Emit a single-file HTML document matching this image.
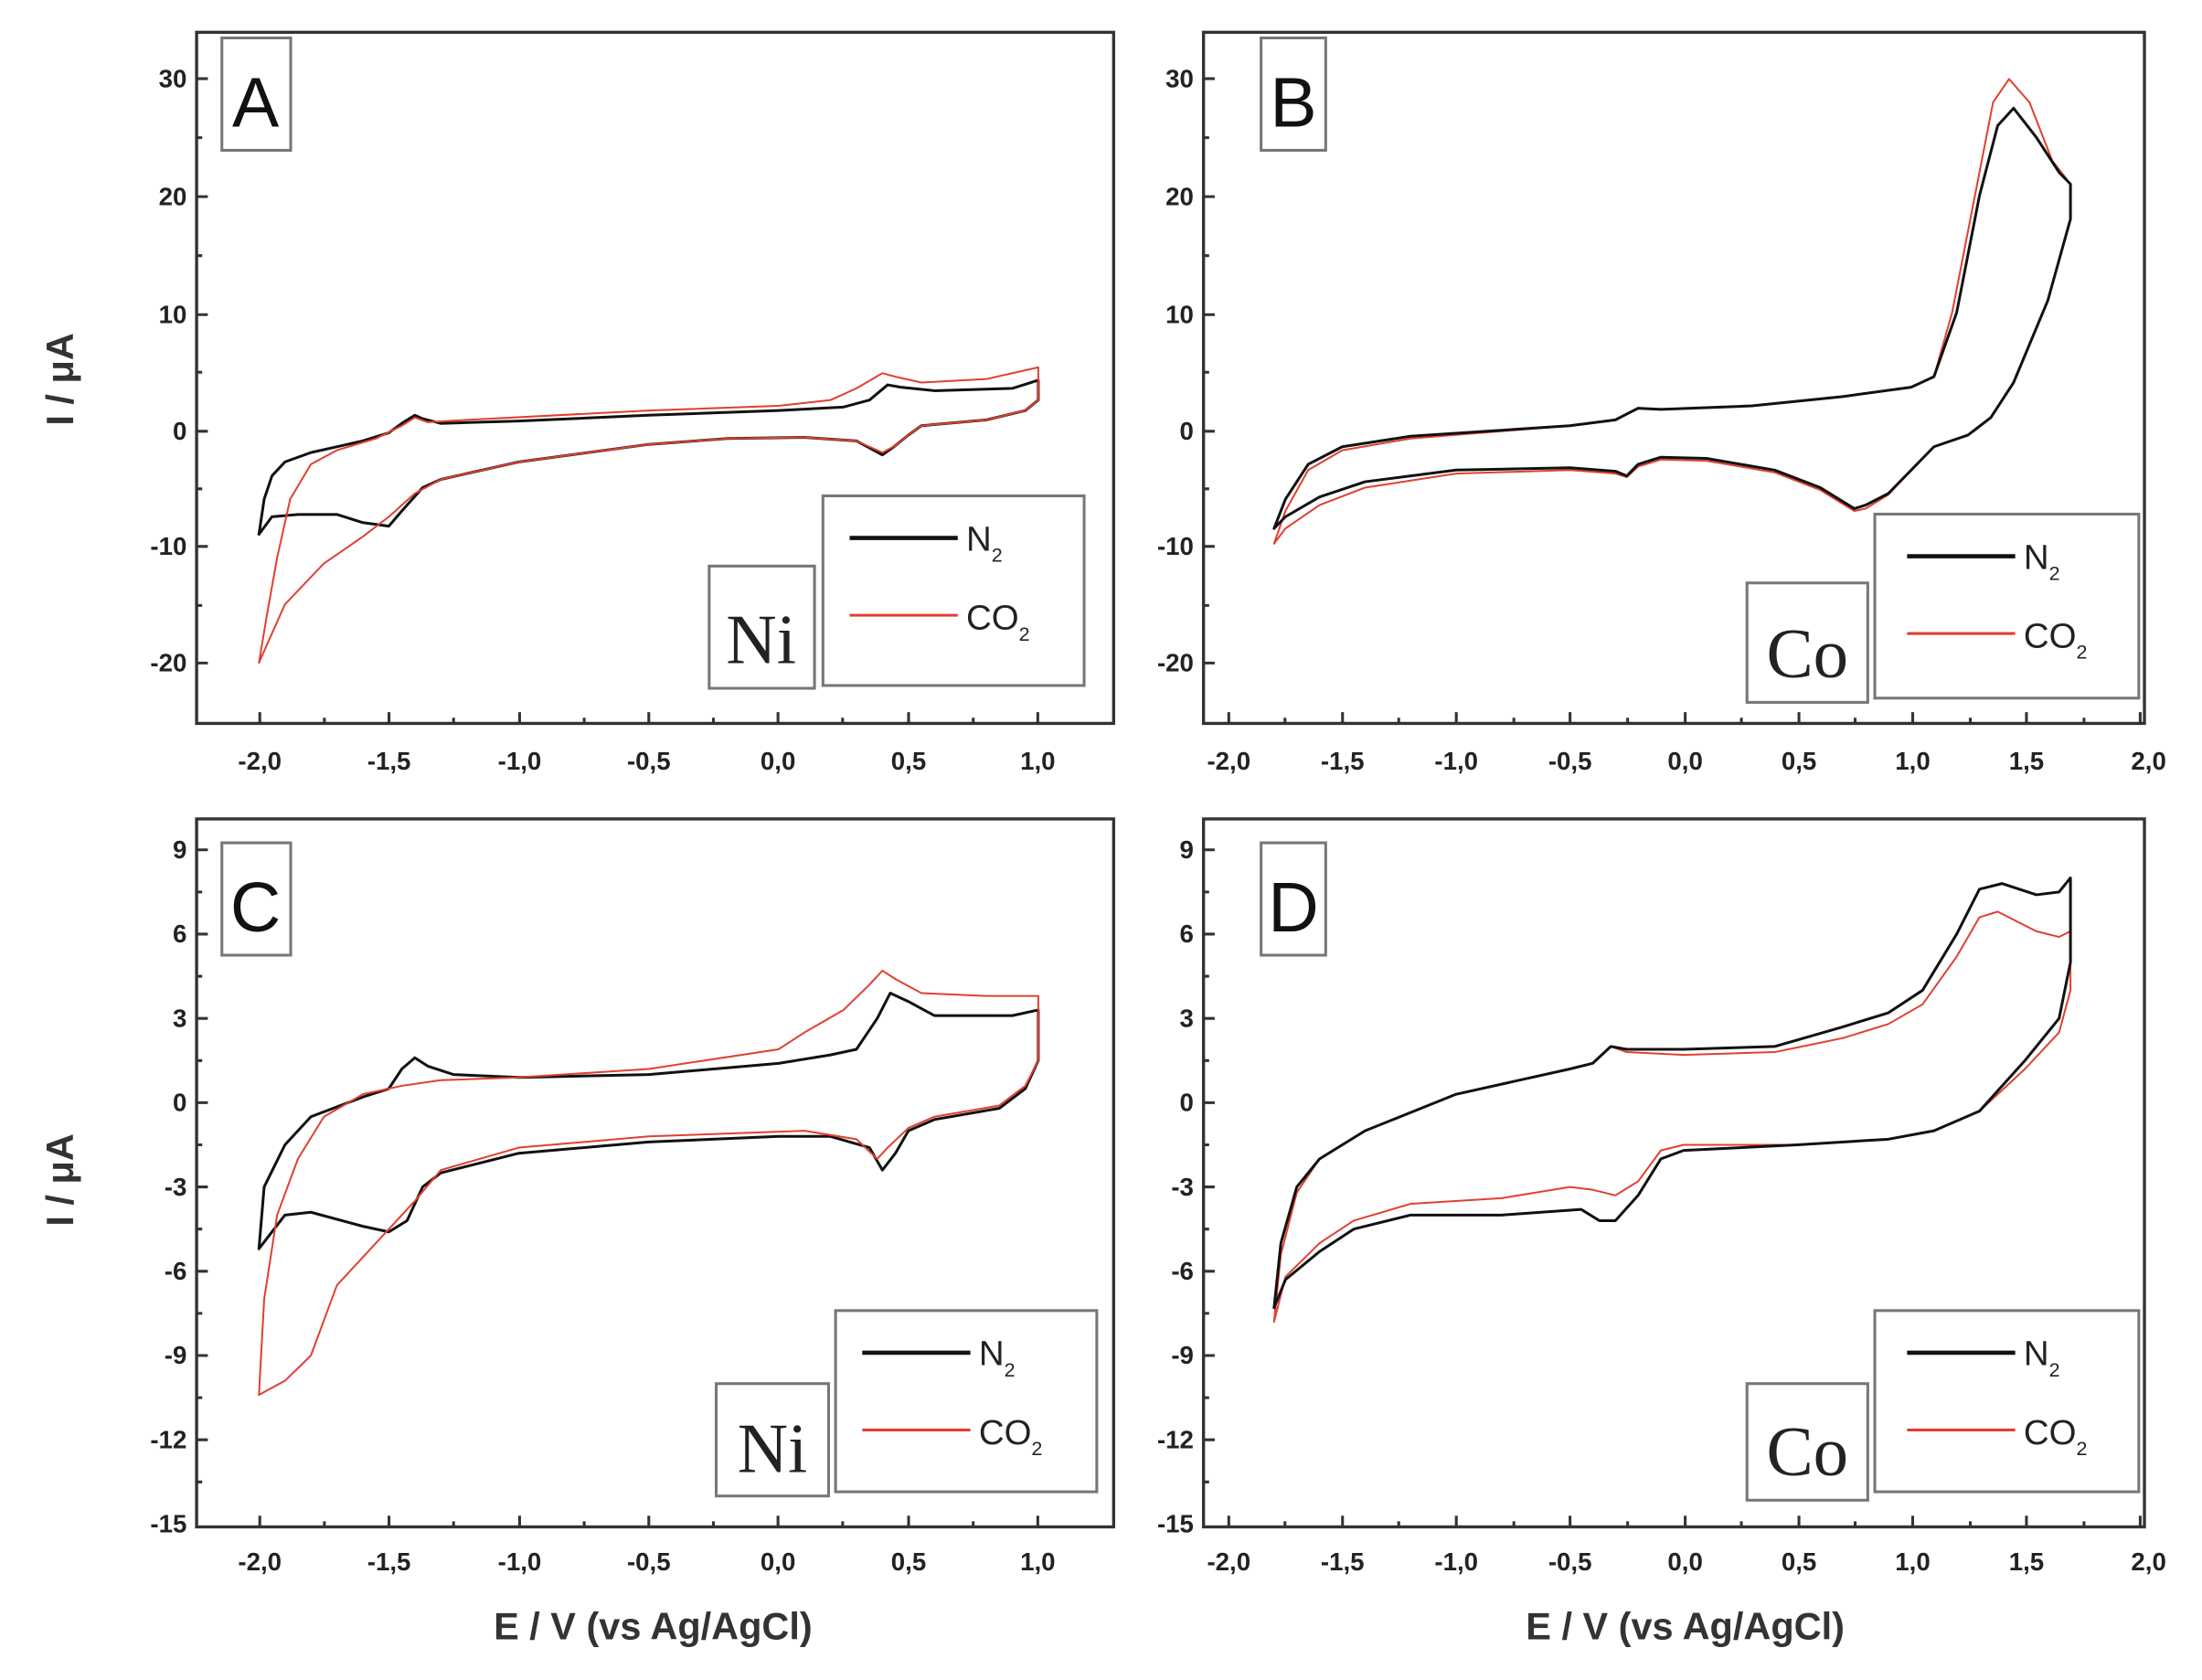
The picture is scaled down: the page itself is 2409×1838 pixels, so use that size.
<!DOCTYPE html>
<html><head><meta charset="utf-8"><style>
html,body{margin:0;padding:0;background:#fff}
svg{display:block}
text{font-family:"Liberation Sans",sans-serif;fill:#222}
.t{font-size:18px;font-weight:bold;fill:#444}
.lab{font-size:27px;font-weight:bold;fill:#333}
.k{fill:none;stroke:#111;stroke-width:3;vector-effect:non-scaling-stroke;stroke-linejoin:round;stroke-linecap:round}
.r{fill:none;stroke:#e04030;stroke-width:2;vector-effect:non-scaling-stroke;stroke-linejoin:round;stroke-linecap:round}
.fr{fill:none;stroke:#333;stroke-width:2.2}
.bx{fill:#fff;stroke:#777;stroke-width:2}
</style></head><body>
<svg width="2409" height="1838" viewBox="0 0 1568 1196" preserveAspectRatio="none">
<svg x="140" y="23" width="653" height="492" viewBox="-2.24 -34 3.53 59.2" preserveAspectRatio="none" overflow="hidden">
<polyline class="k" points="-2,9 -1.98,6 -1.95,4 -1.9,2.8 -1.8,2 -1.6,1 -1.5,0.3 -1.45,-0.5 -1.4,-1.2 -1.37,-0.9 -1.3,-0.5 -1,-0.7 -0.5,-1.2 0,-1.6 0.25,-1.9 0.35,-2.5 0.42,-3.8 0.47,-3.6 0.6,-3.3 0.9,-3.5 1,-4.2 1,-2.5 0.95,-1.6 0.8,-0.8 0.55,-0.3 0.5,0.5 0.45,1.4 0.4,2.2 0.3,1 0.1,0.7 -0.2,0.8 -0.5,1.3 -1,2.8 -1.3,4.3 -1.37,5 -1.45,7 -1.5,8.3 -1.6,8 -1.7,7.3 -1.85,7.3 -1.95,7.5 -2,9"/>
<polyline class="r" points="-2,20 -1.97,16 -1.93,11 -1.88,6 -1.8,3 -1.7,1.8 -1.55,0.8 -1.45,-0.3 -1.4,-1 -1.35,-0.6 -1.2,-0.8 -0.5,-1.6 0,-2 0.2,-2.5 0.3,-3.5 0.4,-4.8 0.45,-4.5 0.55,-4 0.8,-4.3 1,-5.3 1,-2.5 0.95,-1.6 0.8,-0.8 0.55,-0.3 0.5,0.5 0.45,1.4 0.4,2 0.3,1 0.1,0.7 -0.2,0.8 -0.5,1.3 -1,2.8 -1.3,4.3 -1.4,5.5 -1.5,7.5 -1.6,9.2 -1.75,11.5 -1.9,15 -2,20"/>
</svg>
<svg x="857" y="23" width="670" height="492" viewBox="-2.11 -34 4.135 59.2" preserveAspectRatio="none" overflow="hidden">
<polyline class="r" points="-1.8,9.8 -1.75,7 -1.65,3.5 -1.5,1.8 -1.2,0.8 -0.5,-0.3 -0.3,-0.8 -0.2,-1.8 -0.1,-1.7 0.3,-2 0.7,-2.8 1,-3.6 1.1,-4.5 1.18,-10 1.28,-20 1.36,-28 1.43,-30 1.52,-28 1.62,-23 1.7,-21 1.7,-18 1.6,-11 1.45,-4 1.35,-1 1.25,0.5 1.1,1.5 1,3.5 0.9,5.6 0.8,6.8 0.75,7 0.6,5.2 0.4,3.7 0.1,2.7 -0.1,2.6 -0.2,3.2 -0.25,4.1 -0.3,3.8 -0.5,3.5 -1,3.8 -1.4,5 -1.6,6.5 -1.75,8.5 -1.8,9.8"/>
<polyline class="k" points="-1.8,8.5 -1.75,6 -1.65,3 -1.5,1.5 -1.2,0.6 -0.5,-0.3 -0.3,-0.8 -0.2,-1.8 -0.1,-1.7 0.3,-2 0.7,-2.8 1,-3.6 1.1,-4.5 1.2,-10 1.3,-20 1.38,-26 1.45,-27.5 1.55,-25 1.65,-22 1.7,-21 1.7,-18 1.6,-11 1.45,-4 1.35,-1 1.25,0.5 1.1,1.5 1,3.5 0.9,5.5 0.8,6.5 0.75,6.8 0.6,5 0.4,3.5 0.1,2.5 -0.1,2.4 -0.2,3 -0.25,4 -0.3,3.6 -0.5,3.3 -1,3.5 -1.4,4.5 -1.6,5.8 -1.75,7.5 -1.8,8.5"/>
</svg>
<svg x="140" y="583" width="653" height="504" viewBox="-2.24 -10.1 3.53 25.2" preserveAspectRatio="none" overflow="hidden">
<polyline class="k" points="-2,5.2 -1.98,3 -1.9,1.5 -1.8,0.5 -1.6,-0.2 -1.5,-0.5 -1.45,-1.2 -1.4,-1.6 -1.35,-1.3 -1.25,-1 -1,-0.9 -0.5,-1 0,-1.4 0.2,-1.7 0.3,-1.9 0.38,-3 0.43,-3.9 0.5,-3.6 0.6,-3.1 0.9,-3.1 1,-3.3 1,-1.5 0.95,-0.5 0.85,0.2 0.6,0.6 0.5,1 0.45,1.8 0.4,2.4 0.35,1.6 0.2,1.2 0,1.2 -0.5,1.4 -1,1.8 -1.3,2.5 -1.37,3 -1.43,4.2 -1.5,4.6 -1.6,4.4 -1.8,3.9 -1.9,4 -2,5.2"/>
<polyline class="r" points="-2,10.4 -1.98,7 -1.93,4 -1.85,2 -1.75,0.5 -1.6,-0.3 -1.45,-0.6 -1.3,-0.8 -1,-0.9 -0.5,-1.2 0,-1.9 0.1,-2.5 0.25,-3.3 0.35,-4.2 0.4,-4.7 0.45,-4.4 0.55,-3.9 0.8,-3.8 1,-3.8 1,-1.5 0.95,-0.6 0.85,0.1 0.6,0.5 0.5,0.9 0.42,1.6 0.38,2 0.3,1.3 0.1,1 -0.5,1.2 -1,1.6 -1.3,2.4 -1.4,3.5 -1.55,5 -1.7,6.5 -1.8,9 -1.9,9.9 -2,10.4"/>
</svg>
<svg x="857" y="583" width="670" height="504" viewBox="-2.11 -10.1 4.135 25.2" preserveAspectRatio="none" overflow="hidden">
<polyline class="r" points="-1.8,7.8 -1.77,5.4 -1.7,3.2 -1.6,2 -1.4,1 -1,-0.3 -0.5,-1.2 -0.4,-1.4 -0.32,-2 -0.25,-1.8 0,-1.7 0.4,-1.8 0.7,-2.3 0.9,-2.8 1.05,-3.5 1.2,-5.2 1.3,-6.6 1.38,-6.8 1.55,-6.1 1.65,-5.9 1.7,-6.1 1.7,-4 1.65,-2.5 1.5,-1.2 1.3,0.3 1.1,1 0.9,1.3 0.5,1.5 0,1.5 -0.1,1.7 -0.2,2.8 -0.3,3.3 -0.4,3.1 -0.5,3 -0.8,3.4 -1.2,3.6 -1.45,4.2 -1.6,5 -1.75,6.2 -1.8,7.8"/>
<polyline class="k" points="-1.8,7.3 -1.77,5 -1.7,3 -1.6,2 -1.4,1 -1,-0.3 -0.5,-1.2 -0.4,-1.4 -0.32,-2 -0.25,-1.9 0,-1.9 0.4,-2 0.7,-2.7 0.9,-3.2 1.05,-4 1.2,-6 1.3,-7.6 1.4,-7.8 1.55,-7.4 1.65,-7.5 1.7,-8 1.7,-5 1.65,-3 1.5,-1.5 1.3,0.3 1.1,1 0.9,1.3 0.5,1.5 0,1.7 -0.1,2 -0.2,3.3 -0.3,4.2 -0.37,4.2 -0.45,3.8 -0.8,4 -1.2,4 -1.45,4.5 -1.6,5.3 -1.75,6.3 -1.8,7.3"/>
</svg>

<rect class="fr" x="140" y="23" width="653" height="492"/>
<rect class="fr" x="857" y="23" width="670" height="492"/>
<rect class="fr" x="140" y="583" width="653" height="504"/>
<rect class="fr" x="857" y="583" width="670" height="504"/>

<g stroke="#333" stroke-width="2">
<path d="M185 515v-8M277 515v-8M370 515v-8M462 515v-8M554 515v-8M647 515v-8M739 515v-8 M231 515v-4M323 515v-4M416 515v-4M508 515v-4M600 515v-4M693 515v-4"/>
<path d="M185 1087v-8M277 1087v-8M370 1087v-8M462 1087v-8M554 1087v-8M647 1087v-8M739 1087v-8 M231 1087v-4M323 1087v-4M416 1087v-4M508 1087v-4M600 1087v-4M693 1087v-4"/>
<path d="M875 515v-8M956 515v-8M1037 515v-8M1118 515v-8M1200 515v-8M1281 515v-8M1362 515v-8M1443 515v-8M1524 515v-8 M915 515v-4M996 515v-4M1078 515v-4M1159 515v-4M1240 515v-4M1321 515v-4M1403 515v-4M1484 515v-4"/>
<path d="M875 1087v-8M956 1087v-8M1037 1087v-8M1118 1087v-8M1200 1087v-8M1281 1087v-8M1362 1087v-8M1443 1087v-8M1524 1087v-8 M915 1087v-4M996 1087v-4M1078 1087v-4M1159 1087v-4M1240 1087v-4M1321 1087v-4M1403 1087v-4M1484 1087v-4"/>
<path d="M140 56h8M140 140h8M140 224h8M140 307h8M140 389h8M140 472h8 M140 98h4M140 182h4M140 265h4M140 348h4M140 431h4"/>
<path d="M857 56h8M857 140h8M857 224h8M857 307h8M857 389h8M857 472h8 M857 98h4M857 182h4M857 265h4M857 348h4M857 431h4"/>
<path d="M140 605h8M140 665h8M140 725h8M140 785h8M140 845h8M140 905h8M140 965h8M140 1025h8 M140 635h4M140 695h4M140 755h4M140 815h4M140 875h4M140 935h4M140 995h4M140 1055h4"/>
<path d="M857 605h8M857 665h8M857 725h8M857 785h8M857 845h8M857 905h8M857 965h8M857 1025h8 M857 635h4M857 695h4M857 755h4M857 815h4M857 875h4M857 935h4M857 995h4M857 1055h4"/>
</g>

<g class="t" text-anchor="middle">
<text x="185" y="548">-2,0</text><text x="277" y="548">-1,5</text><text x="370" y="548">-1,0</text><text x="462" y="548">-0,5</text><text x="554" y="548">0,0</text><text x="647" y="548">0,5</text><text x="739" y="548">1,0</text>
<text x="185" y="1118">-2,0</text><text x="277" y="1118">-1,5</text><text x="370" y="1118">-1,0</text><text x="462" y="1118">-0,5</text><text x="554" y="1118">0,0</text><text x="647" y="1118">0,5</text><text x="739" y="1118">1,0</text>
<text x="875" y="548">-2,0</text><text x="956" y="548">-1,5</text><text x="1037" y="548">-1,0</text><text x="1118" y="548">-0,5</text><text x="1200" y="548">0,0</text><text x="1281" y="548">0,5</text><text x="1362" y="548">1,0</text><text x="1443" y="548">1,5</text><text x="1530" y="548">2,0</text>
<text x="875" y="1118">-2,0</text><text x="956" y="1118">-1,5</text><text x="1037" y="1118">-1,0</text><text x="1118" y="1118">-0,5</text><text x="1200" y="1118">0,0</text><text x="1281" y="1118">0,5</text><text x="1362" y="1118">1,0</text><text x="1443" y="1118">1,5</text><text x="1530" y="1118">2,0</text>
</g>
<g class="t" text-anchor="end">
<text x="133" y="62">30</text><text x="133" y="146">20</text><text x="133" y="230">10</text><text x="133" y="313">0</text><text x="133" y="395">-10</text><text x="133" y="478">-20</text>
<text x="850" y="62">30</text><text x="850" y="146">20</text><text x="850" y="230">10</text><text x="850" y="313">0</text><text x="850" y="395">-10</text><text x="850" y="478">-20</text>
<text x="133" y="611">9</text><text x="133" y="671">6</text><text x="133" y="731">3</text><text x="133" y="791">0</text><text x="133" y="851">-3</text><text x="133" y="911">-6</text><text x="133" y="971">-9</text><text x="133" y="1031">-12</text><text x="133" y="1091">-15</text>
<text x="850" y="611">9</text><text x="850" y="671">6</text><text x="850" y="731">3</text><text x="850" y="791">0</text><text x="850" y="851">-3</text><text x="850" y="911">-6</text><text x="850" y="971">-9</text><text x="850" y="1031">-12</text><text x="850" y="1091">-15</text>
</g>

<text class="lab" transform="translate(52,270) rotate(-90)" text-anchor="middle">I / μA</text>
<text class="lab" transform="translate(52,840) rotate(-90)" text-anchor="middle">I / μA</text>
<text class="lab" x="465" y="1167" text-anchor="middle">E / V (vs Ag/AgCl)</text>
<text class="lab" x="1200" y="1167" text-anchor="middle">E / V (vs Ag/AgCl)</text>

<rect class="bx" x="158" y="27" width="49" height="80"/><text x="182" y="90" text-anchor="middle" style="font-size:50px;fill:#111">A</text>
<rect class="bx" x="898" y="27" width="46" height="80"/><text x="921" y="90" text-anchor="middle" style="font-size:50px;fill:#111">B</text>
<rect class="bx" x="158" y="600" width="49" height="80"/><text x="182" y="663" text-anchor="middle" style="font-size:50px;fill:#111">C</text>
<rect class="bx" x="898" y="600" width="46" height="80"/><text x="921" y="663" text-anchor="middle" style="font-size:50px;fill:#111">D</text>

<g>
<rect class="bx" x="505" y="403" width="75" height="87"/><text x="542" y="472" text-anchor="middle" style="font-family:'Liberation Serif',serif;font-size:50px;fill:#222">Ni</text>
<rect class="bx" x="586" y="353" width="186" height="135"/>
<line x1="605" y1="383" x2="682" y2="383" stroke="#111" stroke-width="3"/><text x="688" y="392" style="font-size:25px">N<tspan dy="8" style="font-size:14px">2</tspan></text>
<line x1="605" y1="438" x2="682" y2="438" stroke="#e04030" stroke-width="2"/><text x="688" y="448" style="font-size:25px">CO<tspan dy="8" style="font-size:14px">2</tspan></text>
</g>
<g>
<rect class="bx" x="1244" y="415" width="86" height="85"/><text x="1287" y="482" text-anchor="middle" style="font-family:'Liberation Serif',serif;font-size:50px;fill:#222">Co</text>
<rect class="bx" x="1335" y="366" width="188" height="131"/>
<line x1="1358" y1="396" x2="1435" y2="396" stroke="#111" stroke-width="3"/><text x="1441" y="405" style="font-size:25px">N<tspan dy="8" style="font-size:14px">2</tspan></text>
<line x1="1358" y1="451" x2="1435" y2="451" stroke="#e04030" stroke-width="2"/><text x="1441" y="461" style="font-size:25px">CO<tspan dy="8" style="font-size:14px">2</tspan></text>
</g>
<g>
<rect class="bx" x="510" y="985" width="80" height="80"/><text x="550" y="1048" text-anchor="middle" style="font-family:'Liberation Serif',serif;font-size:50px;fill:#222">Ni</text>
<rect class="bx" x="595" y="933" width="186" height="129"/>
<line x1="614" y1="963" x2="691" y2="963" stroke="#111" stroke-width="3"/><text x="697" y="972" style="font-size:25px">N<tspan dy="8" style="font-size:14px">2</tspan></text>
<line x1="614" y1="1018" x2="691" y2="1018" stroke="#e04030" stroke-width="2"/><text x="697" y="1028" style="font-size:25px">CO<tspan dy="8" style="font-size:14px">2</tspan></text>
</g>
<g>
<rect class="bx" x="1244" y="985" width="86" height="83"/><text x="1287" y="1050" text-anchor="middle" style="font-family:'Liberation Serif',serif;font-size:50px;fill:#222">Co</text>
<rect class="bx" x="1335" y="933" width="188" height="129"/>
<line x1="1358" y1="963" x2="1435" y2="963" stroke="#111" stroke-width="3"/><text x="1441" y="972" style="font-size:25px">N<tspan dy="8" style="font-size:14px">2</tspan></text>
<line x1="1358" y1="1018" x2="1435" y2="1018" stroke="#e04030" stroke-width="2"/><text x="1441" y="1028" style="font-size:25px">CO<tspan dy="8" style="font-size:14px">2</tspan></text>
</g>
</svg>
</body></html>
